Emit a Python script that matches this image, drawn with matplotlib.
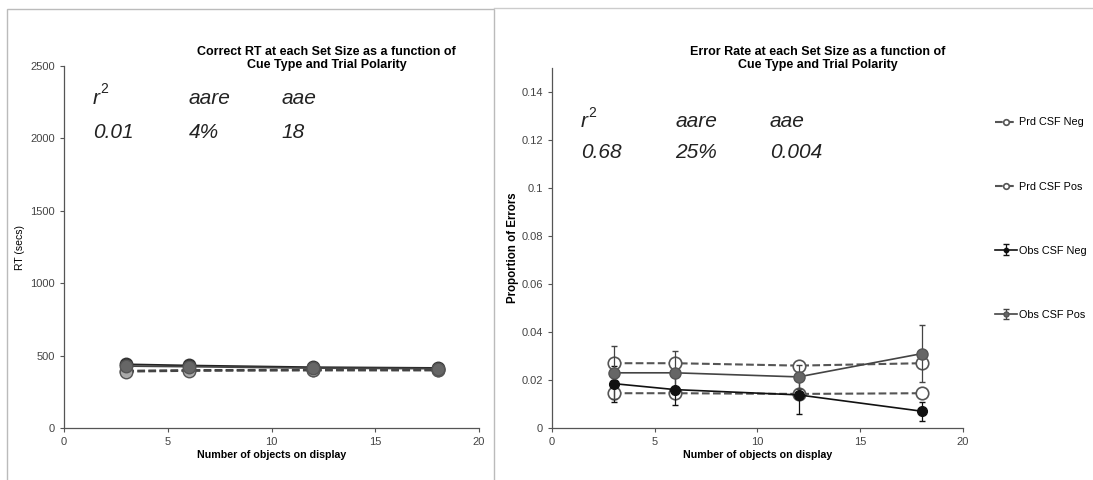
import matplotlib.pyplot as plt
from matplotlib.patches import Rectangle
from matplotlib.lines import Line2D

# set sizes on the x axis
set_size = [3, 6, 12, 18]

# RT panel (msec)
rt_prd_neg = [395, 400, 402, 403]
rt_prd_pos = [390, 395, 398, 398]
rt_obs_neg = [440, 432, 420, 415]
rt_obs_pos = [428, 424, 414, 410]

# error rate panel
err_prd_neg = [0.0145, 0.0145, 0.0142, 0.0145]
err_prd_pos = [0.027, 0.027, 0.026, 0.027]
err_obs_neg = [0.0185, 0.016, 0.0138, 0.007]
err_obs_pos = [0.023, 0.023, 0.0213, 0.031]
sem_obs_neg = [0.0075, 0.0065, 0.008, 0.004]
sem_obs_pos = [0.011, 0.009, 0.005, 0.012]

labels = ['Prd CSF Neg', 'Prd CSF Pos', 'Obs CSF Neg', 'Obs CSF Pos']
rt_stats = ['0.01', '4%', '18']
err_stats = ['0.68', '25%', '0.004']

plt.rcParams['font.family'] = ['Liberation Sans', 'DejaVu Sans']

fig = plt.figure(figsize=(10.93, 4.8), dpi=100)
fig.patches.append(Rectangle((0.006, -0.01), 0.446, 0.991, transform=fig.transFigure,
                             fill=False, edgecolor='#bbbbbb', linewidth=1))
fig.add_artist(Line2D([0.452, 1.0], [0.983, 0.983], transform=fig.transFigure,
                      color='#cccccc', lw=1))

ax1 = fig.add_axes([0.0586, 0.1083, 0.3797, 0.754])
ax2 = fig.add_axes([0.505, 0.1083, 0.376, 0.75])


def style_axes(ax):
    for side in ['top', 'right']:
        ax.spines[side].set_visible(False)
    for side in ['left', 'bottom']:
        ax.spines[side].set_color('#555555')
        ax.spines[side].set_linewidth(0.9)
    ax.tick_params(labelsize=8, colors='#555555', length=3, width=0.8, labelcolor='#444444')
    ax.set_xlim(0, 20)
    ax.set_xticks([0, 5, 10, 15, 20])
    ax.set_xlabel('Number of objects on display', fontsize=7.7, fontweight='bold', labelpad=2)


# left panel: RT
ax1.plot(set_size, rt_prd_neg, '--', color='#444444', lw=1.5, marker='o', ms=9,
         mfc='#999999', mec='#555555')
ax1.plot(set_size, rt_prd_pos, '--', color='#444444', lw=1.5, marker='o', ms=9,
         mfc='#aaaaaa', mec='#555555')
ax1.plot(set_size, rt_obs_neg, '-', color='#222222', lw=1.3, marker='o', ms=9,
         mfc='#333333', mec='#333333')
ax1.plot(set_size, rt_obs_pos, '-', color='#444444', lw=1.3, marker='o', ms=9,
         mfc='#666666', mec='#555555')
ax1.set_ylim(0, 2500)
ax1.set_yticks([0, 500, 1000, 1500, 2000, 2500])
ax1.set_ylabel('RT (secs)', fontsize=7.5, labelpad=4)
style_axes(ax1)
fig.text(0.299, 0.878, 'Correct RT at each Set Size as a function of\nCue Type and Trial Polarity',
         fontsize=9, fontweight='bold', ha='center', va='center', linespacing=1.05)

# right panel: error rate
ax2.plot(set_size, err_prd_neg, '--', color='#555555', lw=1.5, marker='o', ms=9,
         mfc='white', mec='#555555', mew=1.2, zorder=3, label=labels[0])
ax2.plot(set_size, err_prd_pos, '--', color='#555555', lw=1.5, marker='o', ms=9,
         mfc='white', mec='#555555', mew=1.2, zorder=3, label=labels[1])
ax2.errorbar(set_size, err_obs_neg, yerr=sem_obs_neg, fmt='-o', color='#111111', lw=1.2,
             ms=7, mfc='#111111', mec='#111111', elinewidth=0.9, capsize=2.5,
             zorder=4, label=labels[2])
ax2.errorbar(set_size, err_obs_pos, yerr=sem_obs_pos, fmt='-o', color='#444444', lw=1.2,
             ms=8, mfc='#666666', mec='#555555', elinewidth=0.9, capsize=2.5,
             zorder=4, label=labels[3])
ax2.set_ylim(0, 0.15)
ax2.set_yticks([0, 0.02, 0.04, 0.06, 0.08, 0.1, 0.12, 0.14])
ax2.set_yticklabels(['0', '0.02', '0.04', '0.06', '0.08', '0.1', '0.12', '0.14'])
ax2.set_ylabel('Proportion of Errors', fontsize=8.3, fontweight='bold', labelpad=2)
style_axes(ax2)
fig.text(0.748, 0.878, 'Error Rate at each Set Size as a function of\nCue Type and Trial Polarity',
         fontsize=9, fontweight='bold', ha='center', va='center', linespacing=1.05)

leg = ax2.legend(loc='upper left', bbox_to_anchor=(1.055, 0.89), frameon=False, fontsize=7.8,
                 labelspacing=5.0, handlelength=2.0, handletextpad=0.15, markerscale=0.45)

# fit statistics
for ax, vals, xs, y0, y1 in [(ax1, rt_stats, [0.07, 0.30, 0.525], 0.895, 0.80),
                             (ax2, err_stats, [0.07, 0.30, 0.53], 0.835, 0.75)]:
    for x, head, val in zip(xs, ['r', 'aare', 'aae'], vals):
        ax.text(x, y0, head, transform=ax.transAxes, fontsize=15, style='italic',
                color='#222222')
        if head == 'r':
            ax.text(x + 0.018, y0 + 0.03, '2', transform=ax.transAxes, fontsize=10,
                    color='#222222')
        ax.text(x, y1, val, transform=ax.transAxes, fontsize=15, style='italic',
                color='#222222')

fig.savefig('out.png', dpi=100)
